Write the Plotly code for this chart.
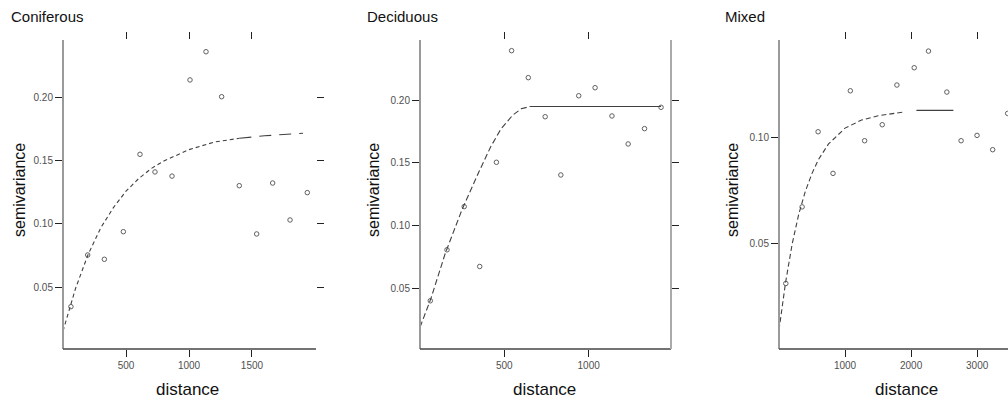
import plotly.graph_objects as go

# ---------------- data ----------------
panel_titles = ["Coniferous", "Deciduous", "Mixed"]

con_dist = [63, 196, 328, 479, 611, 730, 865, 1008, 1135, 1259, 1399, 1537, 1664, 1802, 1939]
con_semi = [0.0344, 0.0754, 0.0720, 0.0939, 0.1553, 0.1413, 0.1380, 0.2143, 0.2367, 0.2010,
            0.1304, 0.0921, 0.1325, 0.1032, 0.1249]
con_fit_x = [0, 100, 200, 300, 400, 500, 600, 700, 800, 1000, 1200, 1400]
con_fit_y = [0.015, 0.049, 0.076, 0.097, 0.113, 0.126, 0.136, 0.144, 0.150, 0.159, 0.165, 0.168]
con_tail_x = [1400, 1600, 1905]
con_tail_y = [0.168, 0.170, 0.172]

dec_dist = [61, 160, 262, 354, 453, 543, 642, 742, 835, 941, 1038, 1138, 1234, 1331, 1429]
dec_semi = [0.0401, 0.0807, 0.1151, 0.0674, 0.1504, 0.2393, 0.2178, 0.1867, 0.1403, 0.2034,
            0.2098, 0.1873, 0.1650, 0.1772, 0.1942]
dec_fit_x = [0, 65, 150, 250, 350, 420, 480, 550, 600, 650]
dec_fit_y = [0.019, 0.042, 0.078, 0.113, 0.143, 0.163, 0.177, 0.188, 0.193, 0.1948]
dec_sill_x = [650, 1429]
dec_sill_y = [0.1948, 0.1948]

mix_dist = [103, 350, 592, 818, 1080, 1296, 1563, 1785, 2047, 2263, 2541, 2757, 2998, 3235, 3462]
mix_semi = [0.0314, 0.0673, 0.1025, 0.0830, 0.1217, 0.0983, 0.1058, 0.1244, 0.1325, 0.1403,
            0.1211, 0.0983, 0.1008, 0.0941, 0.1111]
mix_fit_x = [0, 100, 200, 300, 400, 500, 600, 750, 1000, 1250, 1500, 1900]
mix_fit_y = [0.0096, 0.032, 0.050, 0.064, 0.0747, 0.083, 0.0896, 0.0968, 0.1042, 0.108, 0.110, 0.1118]
mix_sill_x = [2080, 2640]
mix_sill_y = [0.1125, 0.1125]

x_ticks = [[500, 1000, 1500], [500, 1000], [1000, 2000, 3000]]
y_ticks = [[0.05, 0.10, 0.15, 0.20], [0.05, 0.10, 0.15, 0.20], [0.05, 0.10]]
x_ranges = [[0, 2008], [0, 1488], [0, 3467]]
y_ranges = [[0.0008, 0.246], [0.0017, 0.2478], [0.0007, 0.1455]]

# ---------------- figure ----------------
W, H = 1008, 402
FONT = "Liberation Sans, Arial, Helvetica, sans-serif"
x_domains = [[63 / W, 316 / W], [420 / W, 671 / W], [779 / W, 1.0]]
y_domain = [(H - 349) / H, (H - 40) / H]

fig = go.Figure()

point_style = dict(mode="markers", showlegend=False, hoverinfo="skip",
                   marker=dict(symbol="circle-open", size=4.5, color="#606060",
                               line=dict(width=1, color="#606060")))

def add_panel(i, dist, semi, lines):
    xa = "x" if i == 0 else f"x{i+1}"
    ya = "y" if i == 0 else f"y{i+1}"
    fig.add_trace(go.Scatter(x=dist, y=semi, xaxis=xa, yaxis=ya, **point_style))
    for lx, ly, dash in lines:
        fig.add_trace(go.Scatter(x=lx, y=ly, xaxis=xa, yaxis=ya, mode="lines",
                                 showlegend=False, hoverinfo="skip",
                                 line=dict(color="#404040", width=1.1, dash=dash)))

add_panel(0, con_dist, con_semi, [(con_fit_x, con_fit_y, "4px,3px"),
                                  (con_tail_x, con_tail_y, "12px,8px")])
add_panel(1, dec_dist, dec_semi, [(dec_fit_x, dec_fit_y, "6px,3px"),
                                  (dec_sill_x, dec_sill_y, "solid")])
add_panel(2, mix_dist, mix_semi, [(mix_fit_x, mix_fit_y, "5px,3px"),
                                  (mix_sill_x, mix_sill_y, "solid")])

axis_common = dict(showgrid=False, zeroline=False, showline=False, ticks="outside",
                   ticklen=7, tickwidth=1, tickcolor="#222", mirror="ticks",
                   tickfont=dict(family=FONT, size=10, color="#505050"))

layout_axes = {}
for i in range(3):
    sx = "" if i == 0 else str(i + 1)
    layout_axes[f"xaxis{sx}"] = dict(domain=x_domains[i], range=x_ranges[i],
                                     anchor=f"y{sx}", tickvals=x_ticks[i], **axis_common)
    layout_axes[f"yaxis{sx}"] = dict(domain=y_domain, range=y_ranges[i],
                                     anchor=f"x{sx}", tickvals=y_ticks[i],
                                     tickformat=".2f", **axis_common)

shapes = []
for i in range(3):
    sx = "" if i == 0 else str(i + 1)
    shapes.append(dict(type="line", xref=f"x{sx} domain", yref=f"y{sx} domain",
                       x0=0, x1=0, y0=0, y1=1, line=dict(color="#9a9a9a", width=2)))
    shapes.append(dict(type="line", xref=f"x{sx} domain", yref=f"y{sx} domain",
                       x0=0, x1=1, y0=0, y1=0, line=dict(color="#444", width=1.5)))
shapes.append(dict(type="line", xref="x2 domain", yref="y2 domain",
                   x0=1, x1=1, y0=0, y1=1, line=dict(color="#aaa", width=2)))

annotations = []
title_x = [9, 365, 723]
for i, t in enumerate(panel_titles):
    annotations.append(dict(text=t, x=title_x[i] / W, y=(H - 17) / H, xref="paper", yref="paper",
                            xanchor="left", yanchor="middle", showarrow=False,
                            font=dict(family=FONT, size=15, color="#111")))
ylab_x = [20, 374, 733]
xlab_x = [187, 544, 906]
for i in range(3):
    annotations.append(dict(text="semivariance", x=ylab_x[i] / W, y=(H - 190) / H,
                            xref="paper", yref="paper", textangle=-90,
                            xanchor="center", yanchor="middle", showarrow=False,
                            font=dict(family=FONT, size=16, color="#111")))
    annotations.append(dict(text="distance", x=xlab_x[i] / W, y=(H - 389) / H,
                            xref="paper", yref="paper",
                            xanchor="center", yanchor="middle", showarrow=False,
                            font=dict(family=FONT, size=17, color="#111")))

fig.update_layout(width=W, height=H, margin=dict(l=0, r=0, t=0, b=0),
                  paper_bgcolor="white", plot_bgcolor="white",
                  shapes=shapes, annotations=annotations, **layout_axes)

fig.write_html("out.html")
